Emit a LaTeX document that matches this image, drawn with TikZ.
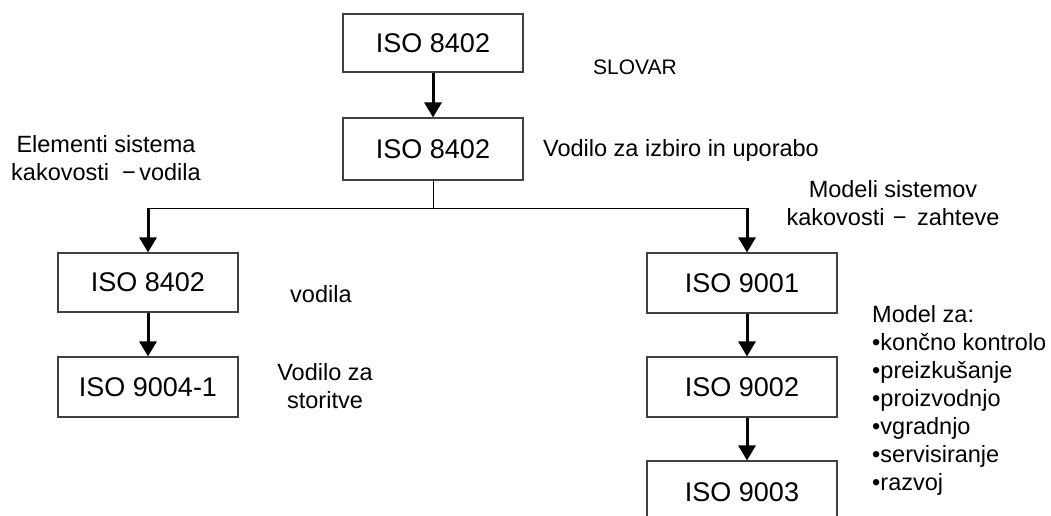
\documentclass[tikz,border=0pt]{standalone}
\usepackage{fontspec}
\setmainfont{Liberation Sans}
\usetikzlibrary{arrows.meta}
\tikzset{
  isobox/.style={draw=black!75, line width=1.1pt, rectangle, inner sep=0pt,
    minimum width=180pt, minimum height=60pt, font=\fontsize{27}{32}\selectfont},
  widebox/.style={isobox, minimum width=190pt},
  arr/.style={line width=3pt, -{Triangle[width=17pt,length=15pt]}},
  thin line/.style={line width=1pt},
  lab/.style={font=\fontsize{23.5}{27.5}\selectfont, inner sep=0pt},
}
\begin{document}
\begin{tikzpicture}[x=1pt,y=-1pt]
\useasboundingbox (0,0) rectangle (1051,516);
\clip (0,0) rectangle (1051,516);
% boxes
\node[isobox, minimum height=58pt] (t1) at (433,43) {ISO 8402};
\node[isobox, minimum height=62pt] (t2) at (433,149) {ISO 8402};
\node[isobox, minimum height=59pt] (l1) at (148,282.5) {ISO 8402};
\node[isobox] (l2) at (148,387) {ISO 9004-1};
\node[widebox] (r1) at (742,283) {ISO 9001};
\node[widebox] (r2) at (742,387) {ISO 9002};
\node[widebox, minimum height=62pt] (r3) at (742,492) {ISO 9003};
% connectors
\coordinate (j) at (433,208);
\coordinate (jl) at (148,208);
\coordinate (jr) at (747,208);
\draw[arr] (t1.south) -- (t2.north);
\draw[thin line] (t2.south) -- (j);
\draw[thin line] (jl) -- (jr);
\draw[arr] (jl) -- (l1.north);
\draw[arr] (l1.south) -- (l2.north);
\draw[arr] (jr) -- (jr |- r1.north);
\draw[arr] ([xshift=5pt]r1.south) -- ([xshift=5pt]r2.north);
\draw[arr] ([xshift=5pt]r2.south) -- ([xshift=5pt]r3.north);
% labels (multi-line nodes are placed by the baseline of their last line)
\node[lab, font=\fontsize{21}{25}\selectfont, anchor=base west] (slovar) at (593,75) {SLOVAR};
\node[lab, anchor=base west] (izbira) at (543,156) {Vodilo za izbiro in uporabo};
\node[lab, align=center, anchor=base] (elem) at (106,180) {Elementi sistema\\kakovosti\hspace{0.55em}−\hspace{0.15em}vodila};
\node[lab, align=center, anchor=base] (modeli) at (893,225) {Modeli sistemov\\kakovosti\hspace{0.35em}−\hspace{0.45em}zahteve};
\node[lab, anchor=base west] (vodila) at (290,302) {vodila};
\node[lab, align=center, anchor=base] (storitve) at (325,408) {Vodilo za\\storitve};
\node[lab, align=left, anchor=base west, font=\fontsize{23.5}{28}\selectfont] (model) at (872,490) {Model za:\\•končno kontrolo\\•preizkušanje\\•proizvodnjo\\•vgradnjo\\•servisiranje\\•razvoj};
\end{tikzpicture}
\end{document}
